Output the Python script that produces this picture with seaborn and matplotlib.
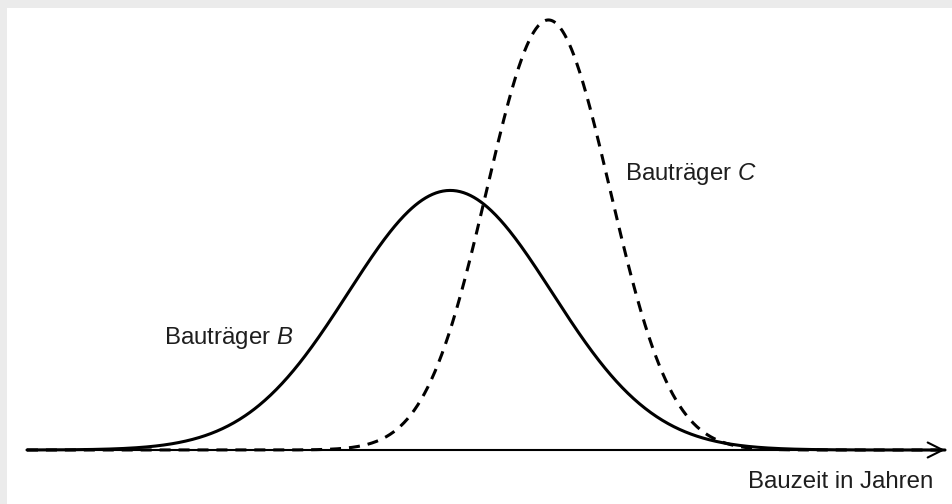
import numpy as np
import pandas as pd
import seaborn as sns
import matplotlib.pyplot as plt
from matplotlib.patches import Rectangle

# normal distributions (x in Jahren, arbitrary scale 0..10)
names = ['Bauträger B', 'Bauträger C']
means = [4.61, 5.68]
sds = [1.11, 0.67]
styles = ['solid', 'dashed']

x_min, x_max = 0.0, 10.0
y_max = 0.612

sns.set_theme(style='white')
plt.rcParams['font.family'] = ['Liberation Sans', 'DejaVu Sans']
plt.rcParams['mathtext.fontset'] = 'custom'
plt.rcParams['mathtext.it'] = 'Liberation Sans:italic'
plt.rcParams['mathtext.rm'] = 'Liberation Sans'

x = np.linspace(x_min, x_max, 800)
frames = []
for name, mu, sd in zip(names, means, sds):
    dens = np.exp(-(x - mu) ** 2 / (2 * sd ** 2)) / (sd * np.sqrt(2 * np.pi))
    frames.append(pd.DataFrame({'x': x, 'y': dens, 'group': name}))
df = pd.concat(frames, ignore_index=True)

fig = plt.figure(figsize=(9.52, 5.04), dpi=100)
fig.patch.set_facecolor('#ebebeb')
fig.patches.append(Rectangle((7 / 952, 0), 1, (504 - 8) / 504, transform=fig.transFigure,
                             facecolor='white', edgecolor='none', zorder=-1))

ax = fig.add_axes([27 / 952, 54 / 504, (945 - 27) / 952, 442 / 504])
ax.patch.set_alpha(0)

for name, ls in zip(names, styles):
    sub = df[df['group'] == name]
    dash = (0, (3.6, 2.6)) if ls == 'dashed' else '-'
    sns.lineplot(data=sub, x='x', y='y', ax=ax, color='black', linewidth=2.2,
                 linestyle=dash, legend=False, clip_on=False)

ax.annotate('', xy=(x_max, 0), xytext=(x_min, 0),
            arrowprops=dict(arrowstyle='->,head_length=0.9,head_width=0.45',
                            color='black', lw=1.5, shrinkA=0, shrinkB=0))

ax.set_xlim(x_min, x_max)
ax.set_ylim(0, y_max)
ax.set_xticks([])
ax.set_yticks([])
ax.set_xlabel('')
ax.set_ylabel('')
for s in ax.spines.values():
    s.set_visible(False)

txt = dict(fontsize=17.3, color='#1e1e1e', va='baseline')
ax.text(1.492, 0.1468, 'Bauträger $\\mathit{B}$', ha='left', **txt)
ax.text(6.514, 0.374, 'Bauträger $\\mathit{C}$', ha='left', **txt)
ax.text(9.869, -0.0526, 'Bauzeit in Jahren', ha='right', **txt)

plt.savefig('out.png', dpi=100)
